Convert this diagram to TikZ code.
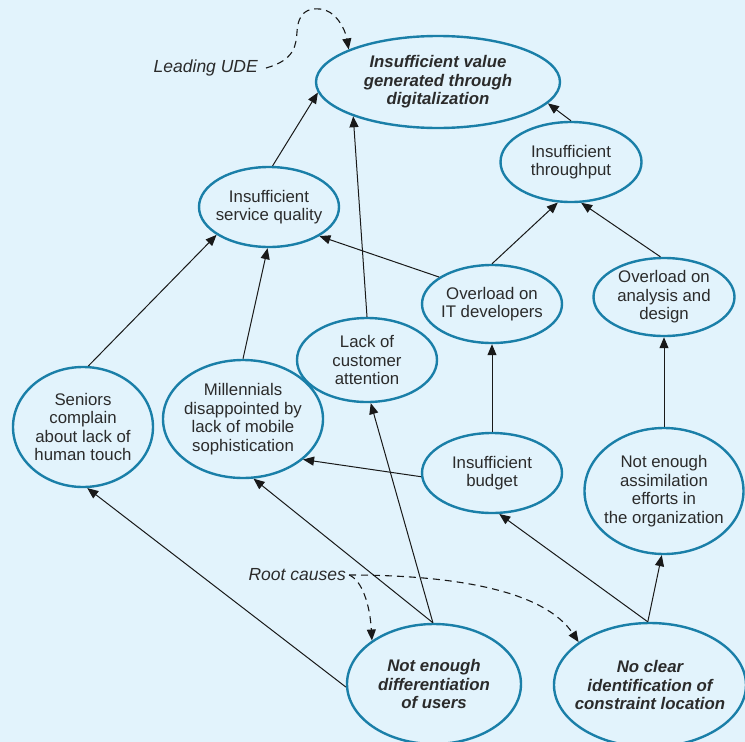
\documentclass[tikz,border=0pt]{standalone}
\usepackage{fontspec}
\setmainfont{Liberation Sans}
\usetikzlibrary{shapes.geometric,arrows.meta}
\definecolor{bg}{HTML}{E2F3FC}
\definecolor{ellblue}{HTML}{1A7FA8}
\definecolor{txtc}{HTML}{2B2B2B}
\tikzset{
  ell/.style={ellipse, draw=ellblue, line width=2.4pt, fill=bg, inner sep=0pt},
  txt/.style={text=txtc, align=center, font=\fontsize{16.8}{18.5}\selectfont, inner sep=0pt},
  btxt/.style={txt, font=\fontsize{16.8}{18.5}\selectfont\bfseries\itshape},
  itxt/.style={text=txtc, font=\fontsize{17.5}{19}\selectfont\itshape, inner sep=1pt},
  arr/.style={draw=black!90, line width=1pt, -{Triangle[length=11pt,width=9pt]}},
  dsh/.style={draw=black!90, line width=1.1pt, dash pattern=on 7pt off 5pt, -{Triangle[length=11pt,width=9pt]}}
}
\begin{document}
\begin{tikzpicture}[x=1pt,y=-1pt]
\useasboundingbox (0,0) rectangle (745,742);
\fill[bg] (0,0) rectangle (745,742);

\node[ell, minimum width=244pt, minimum height=92pt, label={[btxt]center:Insufficient value\\generated through\\digitalization}] (top) at (438,82) {};
\node[ell, minimum width=141pt, minimum height=80pt, label={[txt]center:Insufficient\\throughput}] (thr) at (571,162) {};
\node[ell, minimum width=140pt, minimum height=80pt, label={[txt]center:Insufficient\\service quality}] (svc) at (269,207) {};
\node[ell, minimum width=140pt, minimum height=78pt, label={[txt]center:Overload on\\IT developers}] (itd) at (492,304) {};
\node[ell, minimum width=141pt, minimum height=78pt, label={[txt]center:Overload on\\analysis and\\design}] (ana) at (664,297) {};
\node[ell, minimum width=140pt, minimum height=84pt, label={[txt]center:Lack of\\customer\\attention}] (lca) at (367,360) {};
\node[ell, minimum width=140pt, minimum height=120pt, label={[txt]center:Seniors\\complain\\about lack of\\human touch}] (sen) at (83,427) {};
\node[ell, minimum width=160pt, minimum height=118pt, label={[txt]center:Millennials\\disappointed by\\lack of mobile\\sophistication}] (mil) at (243,419) {};
\node[ell, minimum width=140pt, minimum height=80pt, label={[txt]center:Insufficient\\budget}] (bud) at (492,473) {};
\node[ell, minimum width=159pt, minimum height=126pt, label={[txt]center:Not enough\\assimilation\\efforts in\\the organization}] (ass) at (664,491) {};
\node[ell, minimum width=174pt, minimum height=120pt, label={[btxt]center:Not enough\\differentiation\\of users}] (dif) at (434,684) {};
\node[ell, minimum width=192pt, minimum height=124pt, label={[btxt]center:No clear\\identification of\\constraint location}] (ncl) at (650,685) {};

\node[itxt, anchor=east] (lead) at (259,68) {Leading UDE};
\node[itxt, anchor=east] (rc) at (347,575) {Root causes};

\draw[arr] (svc.85) -- (top.185);
\draw[arr] (lca.90) -- (top.202);
\draw[arr] (thr.90) -- (top.-11);
\draw[arr] (itd.90) -- (thr.252);
\draw[arr] (ana.95) -- (thr.284);
\draw[arr] (itd.153) -- (svc.-30);
\draw[arr] (sen.85) -- (svc.208);
\draw[arr] (mil.90) -- (svc.268);
\draw[arr] (bud.north) -- (itd.south);
\draw[arr] (bud.183) -- (mil.-34);
\draw[arr] (ass.north) -- (ana.south);
\draw[arr] (dif.91) -- (mil.-80);
\draw[arr] (dif.91) -- (lca.-85);
\draw[arr] (dif.182) -- (sen.-86);
\draw[arr] (ncl.92) -- (bud.-80);
\draw[arr] (ncl.92) -- (ass.-92);

\draw[dsh] ([xshift=7pt]lead.east) .. controls (295,60) and (296,45) .. (297,32)
  .. controls (298,12) and (308,8) .. (320,9) .. controls (335,10) and (345,28) .. (top.160);
\draw[dsh] ([xshift=2pt]rc.east) .. controls (362,580) and (370,605) .. (dif.145);
\draw[dsh] ([xshift=2pt]rc.east) .. controls (460,575) and (545,592) .. (ncl.149);
\end{tikzpicture}
\end{document}
